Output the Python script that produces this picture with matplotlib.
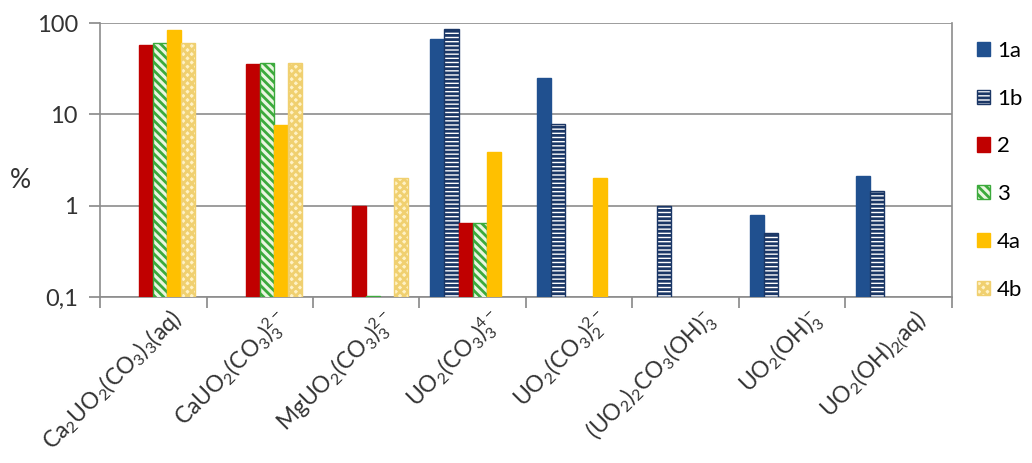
import numpy as np
import matplotlib
matplotlib.use("Agg")
import matplotlib.pyplot as plt
import matplotlib.transforms as mtransforms
from matplotlib.patches import Patch

plt.rcParams['font.family'] = ['Lato', 'DejaVu Sans']
plt.rcParams['mathtext.fontset'] = 'custom'
plt.rcParams['mathtext.rm'] = 'Lato'
plt.rcParams['mathtext.it'] = 'Lato:italic'
plt.rcParams['mathtext.bf'] = 'Lato:bold'
plt.rcParams['hatch.linewidth'] = 2.0

species = [
    r'Ca$_2$UO$_2$(CO$_3$)$_3$(aq)',
    r'CaUO$_2$(CO$_3$)$_3^{2-}$',
    r'MgUO$_2$(CO$_3$)$_3^{2-}$',
    r'UO$_2$(CO$_3$)$_3^{4-}$',
    r'UO$_2$(CO$_3$)$_2^{2-}$',
    r'(UO$_2$)$_2$CO$_3$(OH)$_3^{-}$',
    r'UO$_2$(OH)$_3^{-}$',
    r'UO$_2$(OH)$_{2(}$aq)',
]
series = ['1a', '1b', '2', '3', '4a', '4b']

nan = np.nan
s1a = [nan, nan, nan, 67, 25, nan, 0.79, 2.1]
s1b = [nan, nan, nan, 86, 7.9, 1.0, 0.50, 1.44]
s2 = [57, 36, 1.0, 0.64, nan, nan, nan, nan]
s3 = [60, 37, 0.102, 0.65, nan, nan, nan, nan]
s4a = [84, 7.7, nan, 3.9, 2.0, nan, nan, nan]
s4b = [60, 37, 2.0, nan, nan, nan, nan, nan]
values = [s1a, s1b, s2, s3, s4a, s4b]

# face, edge, hatch for each series
styles = [
    dict(facecolor='#20508f', edgecolor='#20508f', hatch=None),
    dict(facecolor='white', edgecolor='#1b3766', hatch='----'),
    dict(facecolor='#c00000', edgecolor='#c00000', hatch=None),
    dict(facecolor='#eaf6e0', edgecolor='#3caa3c', hatch='\\\\\\\\'),
    dict(facecolor='#ffc000', edgecolor='#ffc000', hatch=None),
    dict(facecolor='#fff2c6', edgecolor='#f0d070', hatch='xxxx'),
]

fig = plt.figure(figsize=(10.32, 4.63), dpi=100)
ax = fig.add_axes([0.097, 0.3585, 0.825, 0.5915])

x = np.arange(len(species))
w = 0.132
for i, (vals, st) in enumerate(zip(values, styles)):
    ax.bar(x + (i - 2.5) * w, vals, width=w, linewidth=1.0,
           label=series[i], zorder=3, **st)

ax.set_yscale('log')
ax.set_ylim(0.1, 100)
ax.set_xlim(-0.5, len(species) - 0.5)
ax.set_yticks([0.1, 1, 10, 100])
ax.set_yticklabels(['0,1', '1', '10', '100'], fontsize=17, color='#333333')
ax.yaxis.set_minor_locator(matplotlib.ticker.NullLocator())
ax.tick_params(axis='y', length=8, color='#888888', width=1.2, pad=8)
ax.grid(axis='y', color='#8c8c8c', linewidth=1.2, zorder=0)

ax.set_xticks(x)
ax.set_xticklabels(species, rotation=45, ha='right', va='top',
                   rotation_mode='anchor', fontsize=16.5, color='#333333')
ax.tick_params(axis='x', which='major', length=0, pad=6)
# nudge the rotated names to the right so they end past the group centre
shift = mtransforms.ScaledTranslation(15 / 100, 0, fig.dpi_scale_trans)
for lbl in ax.get_xticklabels():
    lbl.set_transform(lbl.get_transform() + shift)
ax.set_xticks(np.arange(len(species) + 1) - 0.5, minor=True)
ax.tick_params(axis='x', which='minor', length=8, color='#888888', width=1.2)

for side in ['left', 'right', 'bottom', 'top']:
    ax.spines[side].set_color('#8c8c8c')
    ax.spines[side].set_linewidth(1.2)
ax.spines['top'].set_visible(False)

ax.set_ylabel('%', fontsize=19, rotation=0, color='#333333')
ax.yaxis.set_label_coords(-0.093, 0.38)

handles = [Patch(label=s, linewidth=1.0, **st) for s, st in zip(series, styles)]
fig.legend(handles=handles, loc='upper left', bbox_to_anchor=(0.936, 0.936),
           frameon=False, fontsize=16, handlelength=0.6, handleheight=0.6,
           handletextpad=0.3, labelspacing=1.25, borderpad=0)

fig.savefig('out.png', dpi=100)
